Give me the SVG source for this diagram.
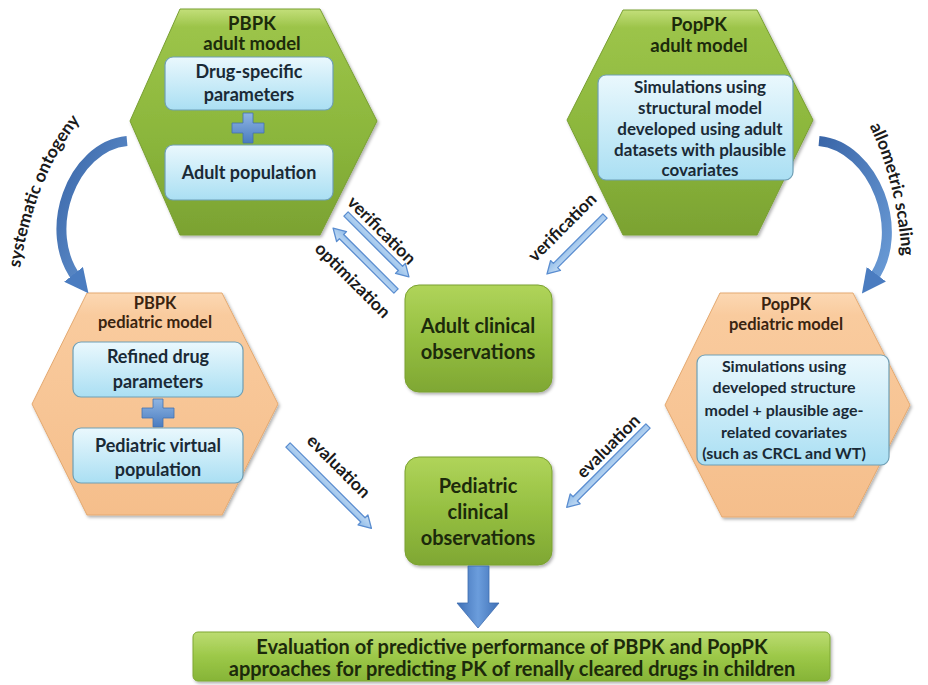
<svg xmlns="http://www.w3.org/2000/svg" width="928" height="685" viewBox="0 0 928 685">
<defs>
<linearGradient id="gHex" x1="0" y1="0" x2="0" y2="1">
<stop offset="0" stop-color="#c3df7a"/><stop offset="0.08" stop-color="#9cc449"/><stop offset="0.6" stop-color="#8ab53b"/><stop offset="1" stop-color="#7ba232"/>
</linearGradient>
<linearGradient id="oHex" x1="0" y1="0" x2="0" y2="1">
<stop offset="0" stop-color="#fcd8b3"/><stop offset="0.1" stop-color="#f9cb9e"/><stop offset="1" stop-color="#f5be8b"/>
</linearGradient>
<linearGradient id="cBox" x1="0" y1="0" x2="0" y2="1">
<stop offset="0" stop-color="#eaf8fd"/><stop offset="1" stop-color="#aadff3"/>
</linearGradient>
<linearGradient id="gBox" x1="0" y1="0" x2="0" y2="1">
<stop offset="0" stop-color="#b0d45a"/><stop offset="0.5" stop-color="#95bf41"/><stop offset="1" stop-color="#7fa733"/>
</linearGradient>
<linearGradient id="banner" x1="0" y1="0" x2="0" y2="1">
<stop offset="0" stop-color="#bcdc72"/><stop offset="0.5" stop-color="#9cc848"/><stop offset="1" stop-color="#86b437"/>
</linearGradient>
<linearGradient id="blueG" x1="0" y1="0" x2="1" y2="1">
<stop offset="0" stop-color="#3a66a8"/><stop offset="1" stop-color="#6a9bd6"/>
</linearGradient>
<linearGradient id="plusG" x1="0" y1="0" x2="0" y2="1">
<stop offset="0" stop-color="#8fb5e3"/><stop offset="1" stop-color="#4a7cc0"/>
</linearGradient>
<linearGradient id="arrowG" x1="0" y1="0" x2="0" y2="1">
<stop offset="0" stop-color="#c7def5"/><stop offset="1" stop-color="#8fbbe8"/>
</linearGradient>
<linearGradient id="downG" x1="0" y1="0" x2="1" y2="0">
<stop offset="0" stop-color="#3f70b6"/><stop offset="0.5" stop-color="#6b9ddc"/><stop offset="1" stop-color="#3f70b6"/>
</linearGradient>
<filter id="sh" x="-10%" y="-10%" width="125%" height="125%">
<feDropShadow dx="1.5" dy="2" stdDeviation="1.8" flood-color="#000" flood-opacity="0.3"/>
</filter>
<marker id="curvHead" viewBox="0 0 10 10" refX="3" refY="5" markerWidth="2.4" markerHeight="2.4" orient="auto" markerUnits="strokeWidth">
<path d="M0,0 L10,5 L0,10 Z" fill="#4a7cc0"/>
</marker>
<path id="pSys" d="M 16 296 C 24 226 46 148 100 100"/>
<path id="pAllo" d="M 855 100 C 885 146 903 214 903 286"/>
</defs>
<style>
.t{font-family:Lato,"Liberation Sans",sans-serif;font-weight:bold;text-anchor:middle}
.title{font-size:18.5px;fill:#1c2a0b}
.ptitle{font-size:16.5px;fill:#3a2410}
.bx{font-size:18px;fill:#1a2a36}
.sm{font-size:17px;fill:#1a2a36}
.sm2{font-size:16px;fill:#1a2a36}
.obs{font-size:20px;fill:#1c2a0b}
.ban{font-size:20px;fill:#1c2a0b}
.lab{font-family:Lato,"Liberation Sans",sans-serif;font-weight:bold;font-size:17.5px;fill:#1a1a1a;text-anchor:middle}
.hexg{fill:url(#gHex);stroke:#789f31;stroke-width:1}
.hexo{fill:url(#oHex);stroke:#e4a970;stroke-width:1}
.cb{fill:url(#cBox);stroke:#6f9fb5;stroke-width:1.2}
.gb{fill:url(#gBox);stroke:#7aa130;stroke-width:1}
.plus{fill:url(#plusG);stroke:#4272b0;stroke-width:0.8}
.arr{fill:url(#arrowG);stroke:#5a8dd0;stroke-width:1.3;stroke-linejoin:round}
.curve{fill:none;stroke:url(#blueG);stroke-width:10;stroke-linecap:butt}
</style>
<rect width="928" height="685" fill="#ffffff"/>

<g id="pbpk-adult">
<polygon class="hexg" filter="url(#sh)" points="180,9 320,9 377,121 320,235 180,235 130,121"/>
<text class="t title" x="252" y="30">PBPK</text>
<text class="t title" x="252" y="50">adult model</text>
<rect class="cb" x="165" y="57" width="168" height="53" rx="8"/>
<text class="t bx" x="249" y="78">Drug-specific</text>
<text class="t bx" x="249" y="101">parameters</text>
<path class="plus" d="M243,113 h10 v10 h11 v10 h-11 v10 h-10 v-10 h-11 v-10 h11 z"/>
<rect class="cb" x="165" y="145" width="168" height="55" rx="8"/>
<text class="t bx" x="249" y="179">Adult population</text>
</g>

<g id="poppk-adult">
<polygon class="hexg" filter="url(#sh)" points="623,10 757,10 813,120 757,235 623,235 567,120"/>
<text class="t title" x="699" y="31">PopPK</text>
<text class="t title" x="699" y="52">adult model</text>
<rect class="cb" x="598" y="75" width="195" height="105" rx="8"/>
<text class="t sm" x="700" y="93">Simulations  using</text>
<text class="t sm" x="700" y="114">structural model</text>
<text class="t sm" x="700" y="135">developed using adult</text>
<text class="t sm" x="700" y="156">datasets with plausible</text>
<text class="t sm" x="700" y="176">covariates</text>
</g>

<g id="pbpk-pediatric">
<polygon class="hexo" filter="url(#sh)" points="87,293 222,293 278,404 222,515 87,515 32,404"/>
<text class="t ptitle" x="155" y="309">PBPK</text>
<text class="t ptitle" x="155" y="328">pediatric model</text>
<rect class="cb" x="73" y="342" width="170" height="55" rx="8"/>
<text class="t bx" x="158" y="363">Refined drug</text>
<text class="t bx" x="158" y="388">parameters</text>
<path class="plus" d="M153,399 h10 v9 h11 v10 h-11 v9 h-10 v-9 h-11 v-10 h11 z"/>
<rect class="cb" x="73" y="428" width="170" height="55" rx="8"/>
<text class="t bx" x="158" y="452">Pediatric virtual</text>
<text class="t bx" x="158" y="476">population</text>
</g>

<g id="poppk-pediatric">
<polygon class="hexo" filter="url(#sh)" points="720,293 853,293 910,405 853,517 722,517 665,405"/>
<text class="t ptitle" x="786" y="310">PopPK</text>
<text class="t ptitle" x="786" y="330">pediatric model</text>
<rect class="cb" x="697" y="355" width="192" height="110" rx="8"/>
<text class="t sm2" x="784" y="372">Simulations  using</text>
<text class="t sm2" x="784" y="393">developed structure</text>
<text class="t sm2" x="784" y="416">model + plausible  age-</text>
<text class="t sm2" x="784" y="438">related covariates</text>
<text class="t sm2" x="784" y="459">(such as CRCL and WT)</text>
</g>

<g id="adult-obs">
<rect class="gb" filter="url(#sh)" x="405" y="285" width="147" height="107" rx="14"/>
<text class="t obs" x="478" y="333">Adult clinical</text>
<text class="t obs" x="478" y="359">observations</text>
</g>

<g id="pediatric-obs">
<rect class="gb" filter="url(#sh)" x="405" y="457" width="147" height="108" rx="14"/>
<text class="t obs" x="478" y="493">Pediatric</text>
<text class="t obs" x="478" y="519">clinical</text>
<text class="t obs" x="478" y="545">observations</text>
</g>

<g id="evaluation-banner">
<rect filter="url(#sh)" x="193" y="632" width="637" height="49" rx="5" fill="url(#banner)" stroke="#7ea833" stroke-width="1"/>
<text class="t ban" x="512" y="654">Evaluation of predictive performance of PBPK and PopPK</text>
<text class="t ban" x="512" y="676">approaches for predicting PK of renally cleared drugs in children</text>
</g>

<g id="connectors">
<path class="curve" d="M 127 141 C 72 146 40 232 78 280" marker-end="url(#curvHead)"/>
<path class="curve" d="M 819 141 C 874 146 908 232 872 280" marker-end="url(#curvHead)"/>
<g transform="translate(346,214) rotate(45)"><path class="arr" d="M0,-3 L77,-3 L77,-7 L89,0 L77,7 L77,3 L0,3 Z"/></g>
<g transform="translate(396,291) rotate(225)"><path class="arr" d="M0,-3 L77,-3 L77,-7 L89,0 L77,7 L77,3 L0,3 Z"/></g>
<g transform="translate(605,216) rotate(135)"><path class="arr" d="M0,-3 L70,-3 L70,-7 L82,0 L70,7 L70,3 L0,3 Z"/></g>
<g transform="translate(288,445) rotate(45)"><path class="arr" d="M0,-3 L106,-3 L106,-7 L118,0 L106,7 L106,3 L0,3 Z"/></g>
<g transform="translate(648,426) rotate(135)"><path class="arr" d="M0,-3 L103,-3 L103,-7 L115,0 L103,7 L103,3 L0,3 Z"/></g>
<g id="down-arrow"><path d="M468,566 h21 v37 h10 l-21,25 l-21,-25 h11 z" fill="url(#downG)" stroke="#3d6cae" stroke-width="0.8"/></g>
<text class="lab" font-size="18.5"><textPath href="#pSys" startOffset="50%">systematic ontogeny</textPath></text>
<text class="lab" font-size="18.5"><textPath href="#pAllo" startOffset="50%">allometric scaling</textPath></text>
<text class="lab" transform="translate(381,231) rotate(45)" y="5">verification</text>
<text class="lab" transform="translate(352,281) rotate(45)" y="5">optimization</text>
<text class="lab" transform="translate(563,228) rotate(-45)" y="5">verification</text>
<text class="lab" transform="translate(338,467) rotate(45)" y="5">evaluation</text>
<text class="lab" transform="translate(609,447) rotate(-45)" y="5">evaluation</text>
</g>
</svg>
